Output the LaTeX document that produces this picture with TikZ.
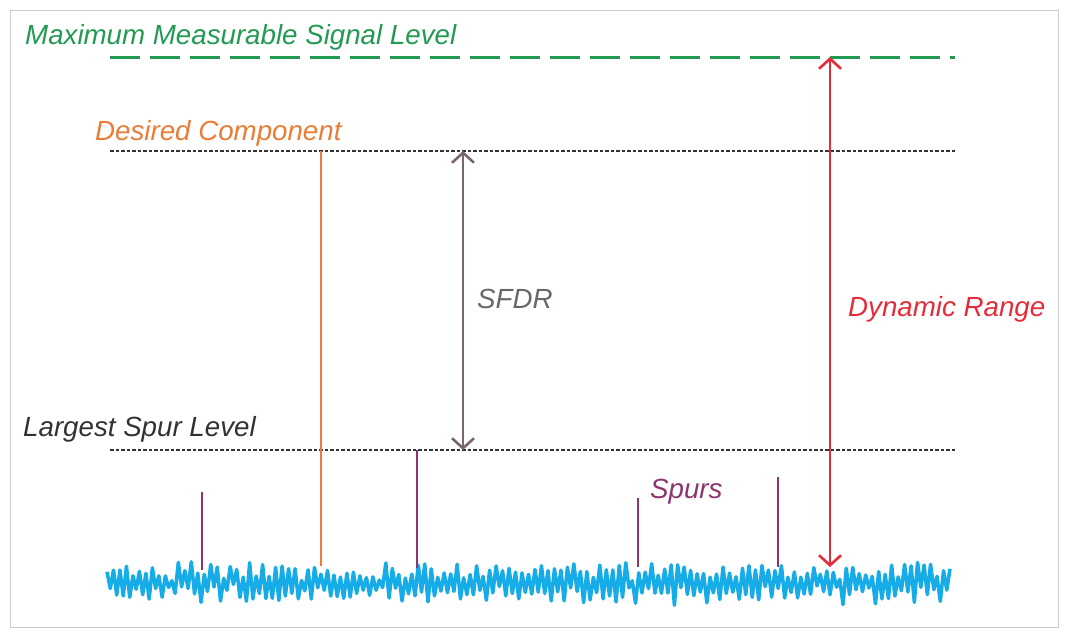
\documentclass[tikz,border=0pt]{standalone}
\usepackage{fontspec}
\setmainfont{Liberation Sans}
\usetikzlibrary{arrows.meta}
\definecolor{cgreen}{RGB}{34,154,82}
\definecolor{corange}{RGB}{234,124,54}
\definecolor{cred}{RGB}{228,44,58}
\definecolor{cgrayarrow}{RGB}{122,102,102}
\definecolor{cgraytext}{RGB}{108,102,102}
\definecolor{cpurple}{RGB}{140,52,112}
\definecolor{cblue}{RGB}{22,172,232}
\definecolor{cdark}{RGB}{50,50,50}
\definecolor{cframe}{RGB}{205,205,205}
\tikzset{
  lbl/.style={anchor=base west, inner sep=0pt, font=\fontsize{27.7}{30}\selectfont\itshape},
  levelline/.style={draw=cdark, line width=1.3pt, dash pattern=on 3.5pt off 2pt},
  spur/.style={draw=cpurple, line width=2.5pt},
  dimarrow/.style={line width=2.6pt, {Straight Barb[length=10pt,width=22pt,line width=2.6pt]}-{Straight Barb[length=10pt,width=22pt,line width=2.6pt]}},
}
\begin{document}
\begin{tikzpicture}[x=1pt,y=-1pt]
\useasboundingbox (0,0) rectangle (1067,635);
\draw[cframe, line width=1pt] (10,10) rectangle (1058,627);
% labels
\node[lbl, text=cgreen] (tmax) at (25,44) {Maximum Measurable Signal Level};
\node[lbl, text=corange] (tdes) at (95,140) {Desired Component};
\node[lbl, text=cdark] (tspur) at (23,436) {Largest Spur Level};
\node[lbl, text=cgraytext] (tsfdr) at (477,308) {SFDR};
\node[lbl, text=cred] (tdr) at (848,316) {Dynamic Range};
\node[lbl, text=cpurple] (tspurs) at (650,498) {Spurs};
% level lines
\coordinate (maxL) at (110,57);
\coordinate (maxR) at (955,57);
\coordinate (desL) at (110,151);
\coordinate (desR) at (955,151);
\coordinate (spL) at (110,450);
\coordinate (spR) at (955,450);
\draw[cgreen, line width=3pt, dash pattern=on 30pt off 10pt] (maxL) -- (maxR);
\draw[levelline] (desL) -- (desR);
\draw[levelline] (spL) -- (spR);
% noise
\pgfmathsetseed{11}
\draw[cblue, line width=3.5pt, line join=round] plot[domain=0:260, samples=261, variable=\t] ({107+\t*3.2423},{583+(mod(\t,2)*2-1)*(5+14*rnd)+4*rand});
% desired component
\coordinate (dtop) at (321,151);
\coordinate (dbot) at (321,566);
\draw[corange, line width=2.4pt] (dtop) -- (dbot);
% spurs
\coordinate (s1t) at (202,492); \coordinate (s1b) at (202,570);
\coordinate (s2t) at (417,450); \coordinate (s2b) at (417,568);
\coordinate (s3t) at (638,498); \coordinate (s3b) at (638,567);
\coordinate (s4t) at (778,477); \coordinate (s4b) at (778,567);
\draw[spur] (s1t) -- (s1b);
\draw[spur] (s2t) -- (s2b);
\draw[spur] (s3t) -- (s3b);
\draw[spur] (s4t) -- (s4b);
% arrows
\coordinate (sfdrT) at (463,151);
\coordinate (sfdrB) at (463,450);
\draw[dimarrow, cgrayarrow] (sfdrT) -- (sfdrB);
\coordinate (drT) at (830,57);
\coordinate (drB) at (830,567);
\draw[dimarrow, cred] (drT) -- (drB);
\end{tikzpicture}
\end{document}
